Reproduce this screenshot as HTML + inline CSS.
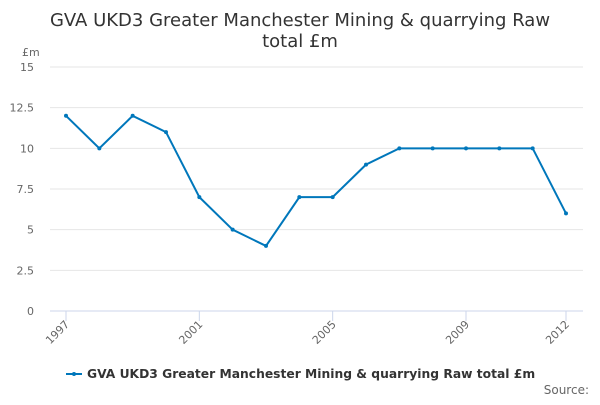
<!DOCTYPE html>
<html><head><meta charset="utf-8"><style>
body{margin:0;background:#fff;font-family:"Liberation Sans","DejaVu Sans",sans-serif;}
svg text{font-family:"DejaVu Sans","Liberation Sans",sans-serif;}
</style></head><body>
<svg width="600" height="400">
<text x="300" y="26" text-anchor="middle" font-size="18" fill="#333">GVA UKD3 Greater Manchester Mining &amp; quarrying Raw</text>
<text x="300" y="47" text-anchor="middle" font-size="18" fill="#333">total £m</text>
<text x="22" y="56" font-size="11" fill="#666">£m</text>
<g id="grid"></g><g id="xax"></g><g id="series"></g>
<g>
<line x1="66" y1="374" x2="82" y2="374" stroke="#0077bb" stroke-width="2"/>
<circle cx="74" cy="374" r="2" fill="#0077bb"/>
<text x="87" y="378" font-size="12.3" font-weight="bold" fill="#333">GVA UKD3 Greater Manchester Mining &amp; quarrying Raw total £m</text>
</g>
<text x="589" y="394" text-anchor="end" font-size="12" fill="#666">Source:</text>
</svg>
<script>
const years=[1997,1998,1999,2000,2001,2002,2003,2004,2005,2006,2007,2008,2009,2010,2011,2012];
const values=[12,10,12,11,7,5,4,7,7,9,10,10,10,10,10,6];
const yTicks=[0,2.5,5,7.5,10,12.5,15];
const xLabels=[1997,2001,2005,2009,2012];
const NS="http://www.w3.org/2000/svg";
const x=v=>66+(v-1997)*(500/15);
const y=v=>311-v*(244/15);
function mk(t,a,p){const e=document.createElementNS(NS,t);for(const k in a)e.setAttribute(k,a[k]);p.appendChild(e);return e;}
const g=document.getElementById('grid');
yTicks.forEach(t=>{
 const l=mk('line',{x1:50,x2:583,y1:y(t),y2:y(t),stroke:t===0?'#ccd6eb':'#e6e6e6'},g);
 
 
 const tx=mk('text',{x:34,y:y(t)+4,'text-anchor':'end','font-size':11,fill:'#666'},g);
 tx.textContent=String(t);
 
 
});
const xa=document.getElementById('xax');
xLabels.forEach(v=>{
 const tk=mk('line',{x1:x(v),x2:x(v),y1:311,y2:321,stroke:'#ccd6eb'},xa);
 
 
 const tx=mk('text',{x:x(v)+4,y:325,'text-anchor':'end','font-size':11,fill:'#666',transform:`rotate(-45 ${x(v)+4} 325)`},xa);
 tx.textContent=String(v);
 
 
});
const s=document.getElementById('series');
const pl=mk('polyline',{points:years.map((yr,i)=>x(yr)+','+y(values[i])).join(' '),fill:'none',stroke:'#0077bb','stroke-width':2},s);


years.forEach((yr,i)=>{
 const c=mk('circle',{cx:x(yr),cy:y(values[i]),r:2,fill:'#0077bb'},s);
 
 
});
</script>
</body></html>
